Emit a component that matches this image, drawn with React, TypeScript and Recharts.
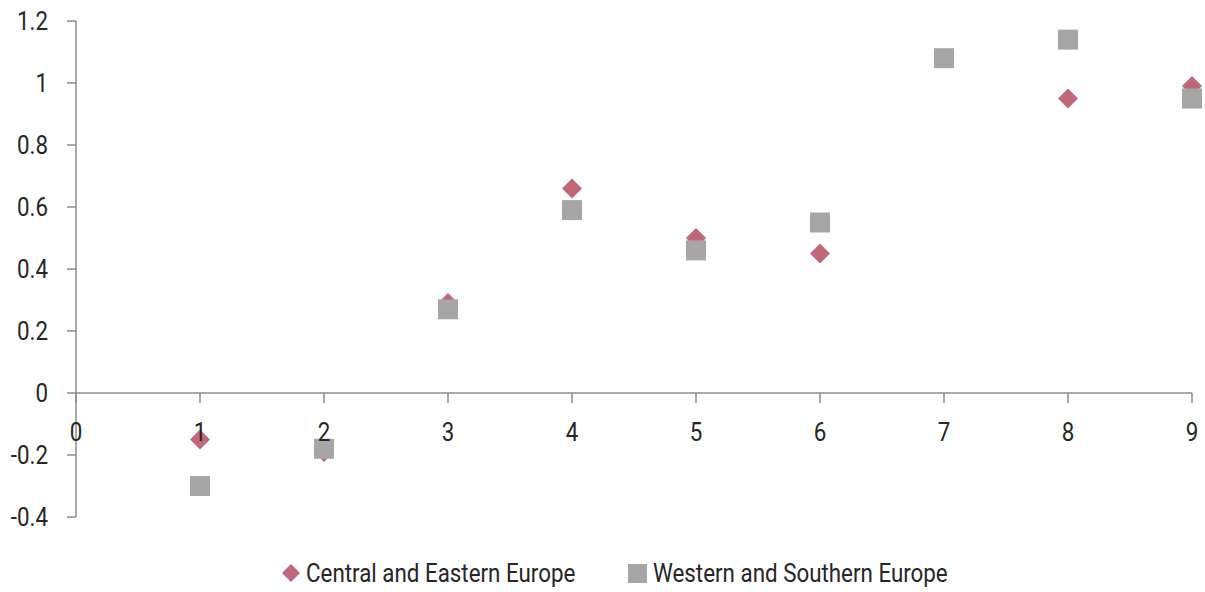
import React from 'react';
import {
  ScatterChart,
  Scatter,
  XAxis,
  YAxis,
  ReferenceLine,
  Legend,
} from 'recharts';

const categories = [1, 2, 3, 4, 5, 6, 7, 8, 9];
const centralEastern = [-0.15, -0.19, 0.29, 0.66, 0.5, 0.45, 1.08, 0.95, 0.99];
const westernSouthern = [-0.3, -0.18, 0.27, 0.59, 0.46, 0.55, 1.08, 1.14, 0.95];
const xTicks = [0, 1, 2, 3, 4, 5, 6, 7, 8, 9];
const yTicks = [-0.4, -0.2, 0, 0.2, 0.4, 0.6, 0.8, 1, 1.2];
const seriesNames = ['Central and Eastern Europe', 'Western and Southern Europe'];

const Y_MIN = -0.4;
const Y_MAX = 1.2;

const ceeData = categories.map((x, i) => ({ x, y: centralEastern[i] }));
const wseData = categories.map((x, i) => ({ x, y: westernSouthern[i] }));

// Roboto squeezed horizontally stands in for the condensed face of the original
const FONT = 'Roboto, sans-serif';
const SQUEEZE = 0.86;
const FS = 26;
const AXIS = '#8c8c8c';
const TEXT = '#262626';
const PINK = '#c0687a';
const GREY = '#a6a6a6';

const W = 1205;
const H = 592;
const MARGIN = { top: 21, right: 13, left: 0, bottom: 4 };
const LEGEND_H = 30;
const XAXIS_H = 41;
const PLOT_H = H - MARGIN.top - MARGIN.bottom - LEGEND_H - XAXIS_H;
// distance from the plot bottom up to the zero line
const ZERO_OFFSET = (PLOT_H * (0 - Y_MIN)) / (Y_MAX - Y_MIN);

const Narrow = ({ x, y, anchor, children }: any) => (
  <text
    transform={`translate(${x},${y}) scale(${SQUEEZE},1)`}
    textAnchor={anchor}
    fill={TEXT}
    fontSize={FS}
    fontFamily={FONT}
  >
    {children}
  </text>
);

const Diamond = (props: any) => {
  const { cx, cy } = props;
  const r = 10;
  return (
    <polygon
      points={`${cx},${cy - r} ${cx + r},${cy} ${cx},${cy + r} ${cx - r},${cy}`}
      fill={PINK}
    />
  );
};

const Square = (props: any) => {
  const { cx, cy } = props;
  const h = 10;
  return <rect x={cx - h} y={cy - h} width={2 * h} height={2 * h} fill={GREY} />;
};

const XTick = (props: any) => {
  const { x, y, payload } = props;
  const zy = y - ZERO_OFFSET;
  return (
    <g>
      <line x1={x} y1={zy} x2={x} y2={zy + 10} stroke={AXIS} strokeWidth={1.5} />
      <Narrow x={x} y={zy + 48} anchor="middle">
        {payload.value}
      </Narrow>
    </g>
  );
};

const YTick = (props: any) => {
  const { x, y, payload } = props;
  return (
    <Narrow x={x} y={y + 9} anchor="end">
      {payload.value}
    </Narrow>
  );
};

const LegendContent = () => (
  <svg width={W - MARGIN.right} height={LEGEND_H} style={{ display: 'block' }}>
    <polygon points="291,6 300,15 291,24 282,15" fill={PINK} />
    <Narrow x={306} y={24} anchor="start">
      {seriesNames[0]}
    </Narrow>
    <rect x={628} y={6} width={19} height={19} fill={GREY} />
    <Narrow x={653} y={24} anchor="start">
      {seriesNames[1]}
    </Narrow>
  </svg>
);

const App: React.FC = () => {
  return (
    <div style={{ position: 'absolute', left: 0, top: 0, width: W, height: H, background: '#fff' }}>
      <ScatterChart width={W} height={H} margin={MARGIN}>
        <XAxis
          type="number"
          dataKey="x"
          domain={[0, 9]}
          ticks={xTicks}
          interval={0}
          axisLine={false}
          tickLine={false}
          tickSize={0}
          tickMargin={0}
          height={XAXIS_H}
          tick={<XTick />}
        />
        <YAxis
          type="number"
          dataKey="y"
          domain={[Y_MIN, Y_MAX]}
          ticks={yTicks}
          interval={0}
          width={76}
          axisLine={{ stroke: AXIS, strokeWidth: 1.5 }}
          tickLine={{ stroke: AXIS, strokeWidth: 1.5 }}
          tickSize={9}
          tickMargin={19}
          tick={<YTick />}
        />
        <ReferenceLine y={0} stroke={AXIS} strokeWidth={1.5} ifOverflow="visible" />
        <Scatter
          name={seriesNames[0]}
          data={ceeData}
          shape={<Diamond />}
          isAnimationActive={false}
        />
        <Scatter
          name={seriesNames[1]}
          data={wseData}
          shape={<Square />}
          isAnimationActive={false}
        />
        <Legend verticalAlign="bottom" height={LEGEND_H} content={<LegendContent />} />
      </ScatterChart>
    </div>
  );
};

export default App;
